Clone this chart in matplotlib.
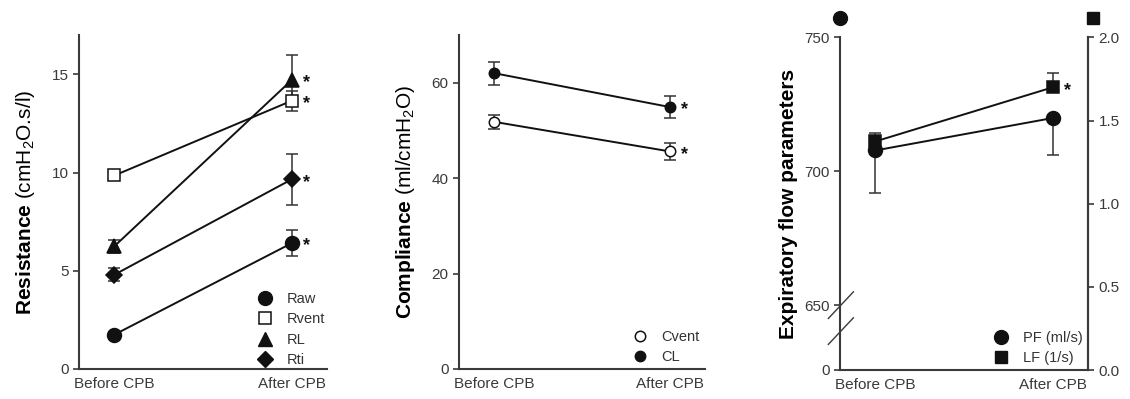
import numpy as np
import matplotlib
matplotlib.use("Agg")
import matplotlib.pyplot as plt

plt.rcParams["font.family"] = ["Liberation Sans", "DejaVu Sans"]
plt.rcParams["mathtext.fontset"] = "custom"
plt.rcParams["mathtext.rm"] = "Liberation Sans"
plt.rcParams["mathtext.it"] = "Liberation Sans:italic"
plt.rcParams["mathtext.bf"] = "Liberation Sans:bold"

# ---- data ----
conditions = ["Before CPB", "After CPB"]

raw = [1.75, 6.4]
raw_err = [0.15, 0.65]
rvent = [9.85, 13.65]
rvent_err = [0.12, 0.5]
rl = [6.25, 14.7]
rl_err = [0.33, 1.3]
rti = [4.8, 9.65]
rti_err = [0.33, 1.3]

cvent = [51.8, 45.6]
cvent_err = [1.5, 1.7]
cl = [62.0, 54.9]
cl_err = [2.4, 2.3]

pf = [707.8, 719.9]
pf_err = [15.8, 13.7]
lf = [1.375, 1.70]
lf_err = [0.05, 0.085]

resistance_sig = [True, True, True, True]
compliance_sig = [True, True]
flow_sig = [False, True]   # PF, LF

# ---- style ----
INK = "#111111"
AXC = "#3a3a3a"
TICKC = "#3a3a3a"
FS_TICK = 11
FS_LAB = 15
FS_LEG = 10.5

fig = plt.figure(figsize=(11.30, 3.99), dpi=100)
W, H = 1130, 399


def make_ax(left_px, right_px, top_px=35, bottom_px=369):
    return fig.add_axes([left_px / W, 1 - bottom_px / H,
                         (right_px - left_px) / W, (bottom_px - top_px) / H])


def style_ax(ax, right=False):
    for s in ["top", "right"]:
        ax.spines[s].set_visible(False)
    sides = ["left", "bottom"] + (["right"] if right else [])
    for s in sides:
        ax.spines[s].set_visible(True)
        ax.spines[s].set_color(AXC)
        ax.spines[s].set_linewidth(1.5)
    ax.tick_params(axis="y", direction="out", length=4.5, width=1.2,
                   colors=AXC, labelcolor=TICKC, labelsize=FS_TICK, pad=3)
    ax.tick_params(axis="x", length=0, labelcolor=TICKC, labelsize=FS_TICK, pad=6)
    ax.set_xlim(-0.2, 1.2)
    ax.set_xticks([0, 1])
    ax.set_xticklabels(conditions)
    ax.patch.set_alpha(0)


def series(ax, y, err, marker, ms, filled=True, err_dir="both", z=3):
    x = np.arange(len(y))
    e = np.asarray(err, float)
    if err_dir == "both":
        yerr = e
    elif err_dir == "up":
        yerr = np.vstack([np.zeros_like(e), e])
    else:
        yerr = np.vstack([e, np.zeros_like(e)])
    ax.errorbar(x, y, yerr=yerr, fmt="none", ecolor="#333333",
                elinewidth=1.1, capsize=4.5, capthick=1.1, zorder=z)
    ax.plot(x, y, "-", color=INK, lw=1.4, zorder=z)
    ax.plot(x, y, linestyle="none", marker=marker, ms=ms,
            mfc=INK if filled else "white", mec=INK, mew=1.1, zorder=z + 1)


def star(ax, y, dx=10.5, dy=-2):
    ax.annotate("*", xy=(1, y), xytext=(dx, dy), textcoords="offset points",
                ha="center", va="center", fontsize=13, fontweight="bold",
                color=INK)


LEG_KW = dict(loc="lower left", frameon=False, fontsize=FS_LEG,
              handlelength=1.0, handletextpad=1.0, labelspacing=0.43,
              borderpad=0.1, labelcolor="#333333")

# ---- panel 1: resistance ----
ax1 = make_ax(79, 327)
style_ax(ax1)
ax1.set_ylim(0, 17)
ax1.set_yticks([0, 5, 10, 15])
series(ax1, raw, raw_err, "o", 10)
series(ax1, rvent, rvent_err, "s", 9, filled=False)
series(ax1, rl, rl_err, "^", 10)
series(ax1, rti, rti_err, "D", 8)
for vals, sig in zip([raw, rvent, rl, rti], resistance_sig):
    if sig:
        star(ax1, vals[1])
ax1.set_ylabel(r"$\mathbf{Resistance}$ (cmH$_2$O.s/l)", fontsize=FS_LAB, color="black")
ax1.yaxis.set_label_coords(-42 / 248, 0.5)
h = [plt.Line2D([], [], ls="none", marker="o", ms=10, mfc=INK, mec=INK),
     plt.Line2D([], [], ls="none", marker="s", ms=9, mfc="white", mec=INK, mew=1.1),
     plt.Line2D([], [], ls="none", marker="^", ms=10, mfc=INK, mec=INK),
     plt.Line2D([], [], ls="none", marker="D", ms=8, mfc=INK, mec=INK)]
ax1.legend(h, ["Raw", "Rvent", "RL", "Rti"], bbox_to_anchor=(0.685, -0.02), **LEG_KW)

# ---- panel 2: compliance ----
ax2 = make_ax(459, 705)
style_ax(ax2)
ax2.set_ylim(0, 70)
ax2.set_yticks([0, 20, 40, 60])
series(ax2, cvent, cvent_err, "o", 7.5, filled=False)
series(ax2, cl, cl_err, "o", 7.5)
for vals, sig in zip([cvent, cl], compliance_sig):
    if sig:
        star(ax2, vals[1])
ax2.set_ylabel(r"$\mathbf{Compliance}$ (ml/cmH$_2$O)", fontsize=FS_LAB, color="black")
ax2.yaxis.set_label_coords(-42 / 246, 0.5)
h2 = [plt.Line2D([], [], ls="none", marker="o", ms=7.5, mfc="white", mec=INK, mew=1.1),
      plt.Line2D([], [], ls="none", marker="o", ms=7.5, mfc=INK, mec=INK)]
ax2.legend(h2, ["Cvent", "CL"], bbox_to_anchor=(0.67, -0.012), **LEG_KW)

# ---- panel 3: expiratory flow (broken left axis, right axis for LF) ----
BREAK_LO = 625.75
BREAK_SPAN = 24.25


def fwd(v):
    v = np.asarray(v, float)
    return np.where(v >= 650, v, BREAK_LO + v * BREAK_SPAN / 650)


def inv(u):
    u = np.asarray(u, float)
    return np.where(u >= 650, u, (u - BREAK_LO) * 650 / BREAK_SPAN)


ax3 = make_ax(840, 1088, top_px=37.5, bottom_px=370)
style_ax(ax3, right=True)
ax3.set_yscale("function", functions=(fwd, inv))
ax3.set_ylim(0, 750)
ax3.set_yticks([0, 650, 700, 750])
ax3.set_yticklabels(["0", "650", "700", "750"])

ax3r = ax3.twinx()
for s in ["top", "left", "bottom"]:
    ax3r.spines[s].set_visible(False)
ax3r.spines["right"].set_color(AXC)
ax3r.spines["right"].set_linewidth(1.5)
ax3r.set_ylim(0, 2.0)
ax3r.set_yticks([0.0, 0.5, 1.0, 1.5, 2.0])
ax3r.set_yticklabels(["0.0", "0.5", "1.0", "1.5", "2.0"])
ax3r.tick_params(axis="y", direction="out", length=4.5, width=1.2,
                 colors=AXC, labelcolor=TICKC, labelsize=FS_TICK, pad=3)

series(ax3, pf, pf_err, "o", 10, err_dir="down")
series(ax3r, lf, lf_err, "s", 9, err_dir="up")
if flow_sig[1]:
    star(ax3r, lf[1])

# axis-break marks on the left spine
for yc in (0.195, 0.117):
    ax3.plot([-0.047, 0.054], [yc - 0.04, yc + 0.04], color=AXC, lw=1.0,
             transform=ax3.transAxes, clip_on=False)

# series keys above each axis
ax3.plot([0], [1.06], "o", ms=10, color=INK, transform=ax3.transAxes, clip_on=False)
ax3.plot([1.02], [1.06], "s", ms=9, color=INK, transform=ax3.transAxes, clip_on=False)

ax3.set_ylabel("Expiratory flow parameters", fontsize=FS_LAB, fontweight="bold",
               color="black")
ax3.yaxis.set_label_coords(-42 / 248, 0.5)
h3 = [plt.Line2D([], [], ls="none", marker="o", ms=10, mfc=INK, mec=INK),
      plt.Line2D([], [], ls="none", marker="s", ms=9, mfc=INK, mec=INK)]
ax3r.legend(h3, ["PF (ml/s)", "LF (1/s)"], bbox_to_anchor=(0.585, -0.012), **LEG_KW)

fig.savefig("out.png", dpi=100)
